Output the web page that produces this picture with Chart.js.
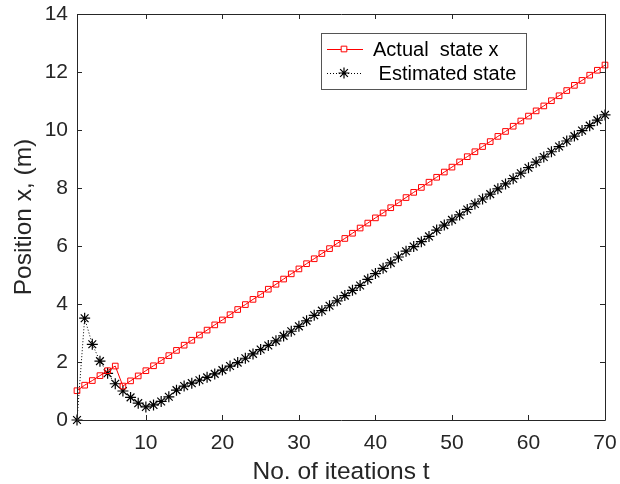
<!DOCTYPE html>
<html>
<head>
<meta charset="utf-8">
<script src="https://cdn.jsdelivr.net/npm/chart.js@4/dist/chart.umd.min.js"></script>
<style>
  html, body { margin: 0; padding: 0; background: #fff; }
  #wrap { width: 620px; height: 484px; }
</style>
</head>
<body>
<div id="wrap"><canvas id="chart" width="620" height="484"></canvas></div>
<script>
// iteration index t = 1..70
const iterations = [
  1, 2, 3, 4, 5, 6, 7, 8, 9, 10, 11, 12, 13, 14, 15, 16, 17, 18, 19, 20,
  21, 22, 23, 24, 25, 26, 27, 28, 29, 30, 31, 32, 33, 34, 35, 36, 37, 38, 39, 40,
  41, 42, 43, 44, 45, 46, 47, 48, 49, 50, 51, 52, 53, 54, 55, 56, 57, 58, 59, 60,
  61, 62, 63, 64, 65, 66, 67, 68, 69, 70
];

const actualState = [
  1.01, 1.20, 1.36, 1.53, 1.70, 1.86, 1.17, 1.35, 1.52, 1.70,
  1.87, 2.05, 2.22, 2.40, 2.58, 2.75, 2.93, 3.10, 3.28, 3.45,
  3.63, 3.81, 3.98, 4.16, 4.33, 4.51, 4.68, 4.86, 5.04, 5.21,
  5.39, 5.56, 5.74, 5.91, 6.09, 6.26, 6.44, 6.62, 6.79, 6.97,
  7.14, 7.32, 7.49, 7.67, 7.85, 8.02, 8.20, 8.37, 8.55, 8.72,
  8.90, 9.08, 9.25, 9.43, 9.60, 9.78, 9.95, 10.13, 10.31, 10.48,
  10.66, 10.83, 11.01, 11.18, 11.36, 11.54, 11.71, 11.89, 12.06, 12.24
];

const estimatedState = [
  0.00, 3.51, 2.61, 2.03, 1.61, 1.25, 1.00, 0.78, 0.58, 0.45,
  0.52, 0.64, 0.80, 1.03, 1.17, 1.27, 1.37, 1.47, 1.59, 1.72,
  1.86, 1.98, 2.13, 2.28, 2.43, 2.57, 2.73, 2.90, 3.06, 3.23,
  3.42, 3.61, 3.77, 3.94, 4.11, 4.29, 4.47, 4.64, 4.85, 5.05,
  5.23, 5.42, 5.62, 5.82, 5.98, 6.15, 6.33, 6.55, 6.72, 6.90,
  7.07, 7.26, 7.45, 7.62, 7.79, 7.97, 8.14, 8.32, 8.51, 8.70,
  8.89, 9.07, 9.25, 9.43, 9.62, 9.79, 9.98, 10.15, 10.34, 10.52
];

const xTicks = [10, 20, 30, 40, 50, 60, 70];
const yTicks = [0, 2, 4, 6, 8, 10, 12, 14];

const axisColor = '#262626';
const fontFamily = '"Liberation Sans", Arial, Helvetica, sans-serif';

// MATLAB style box with inward ticks on all four sides
const boxAxes = {
  id: 'boxAxes',
  afterDatasetsDraw(chart) {
    const { ctx, chartArea: a, scales } = chart;
    const len = 5;
    ctx.save();
    ctx.strokeStyle = axisColor;
    ctx.lineWidth = 1;
    ctx.beginPath();
    ctx.rect(Math.round(a.left) + 0.5, Math.round(a.top) + 0.5,
             Math.round(a.right - a.left), Math.round(a.bottom - a.top));
    xTicks.forEach(v => {
      const x = Math.round(scales.x.getPixelForValue(v)) + 0.5;
      ctx.moveTo(x, a.bottom); ctx.lineTo(x, a.bottom - len);
      ctx.moveTo(x, a.top); ctx.lineTo(x, a.top + len);
    });
    yTicks.forEach(v => {
      const y = Math.round(scales.y.getPixelForValue(v)) + 0.5;
      ctx.moveTo(a.left, y); ctx.lineTo(a.left + len, y);
      ctx.moveTo(a.right, y); ctx.lineTo(a.right - len, y);
    });
    ctx.stroke();
    ctx.restore();
  }
};

// legend box placed inside the axes, top right
const insideLegend = {
  id: 'insideLegend',
  afterDraw(chart) {
    const { ctx } = chart;
    const x0 = 321, y0 = 33, w = 205, h = 56;
    ctx.save();
    ctx.fillStyle = '#fff';
    ctx.fillRect(x0, y0, w, h);
    ctx.strokeStyle = '#555';
    ctx.lineWidth = 1;
    ctx.strokeRect(x0 + 0.5, y0 + 0.5, w, h);

    const ds = chart.data.datasets;
    const rows = [49, 73];
    ds.forEach((d, i) => {
      const y = rows[i];
      ctx.beginPath();
      ctx.strokeStyle = d.borderColor;
      ctx.lineWidth = 1;
      ctx.setLineDash(d.borderDash || []);
      ctx.moveTo(327, y + 0.5);
      ctx.lineTo(363, y + 0.5);
      ctx.stroke();
      ctx.setLineDash([]);
      ctx.lineWidth = d.pointBorderWidth;
      Chart.helpers.drawPoint(ctx, {
        pointStyle: d.pointStyle, radius: d.pointRadius, borderWidth: d.pointBorderWidth
      }, 344, y);
      ctx.fillStyle = '#000';
      ctx.font = '20px ' + fontFamily;
      ctx.textBaseline = 'middle';
      ctx.fillText(d.label, 373, y + 1);
    });
    ctx.restore();
  }
};

new Chart(document.getElementById('chart'), {
  type: 'line',
  data: {
    datasets: [
      {
        label: 'Actual  state x',
        data: iterations.map((t, i) => ({ x: t, y: actualState[i] })),
        borderColor: '#ff0000',
        backgroundColor: 'rgba(0,0,0,0)',
        borderWidth: 1,
        pointStyle: 'rect',
        pointRadius: 4,
        pointBorderWidth: 1,
        pointBorderColor: '#ff0000',
        pointBackgroundColor: 'rgba(0,0,0,0)',
        tension: 0,
        clip: false
      },
      {
        label: ' Estimated state',
        data: iterations.map((t, i) => ({ x: t, y: estimatedState[i] })),
        borderColor: '#000000',
        backgroundColor: 'rgba(0,0,0,0)',
        borderWidth: 1,
        borderDash: [1, 2],
        pointStyle: 'star',
        pointRadius: 5.5,
        pointBorderWidth: 1.2,
        pointBorderColor: '#000000',
        pointBackgroundColor: 'rgba(0,0,0,0)',
        tension: 0,
        clip: false
      }
    ]
  },
  options: {
    responsive: false,
    animation: false,
    devicePixelRatio: 1,
    layout: { padding: { top: 14, right: 15, bottom: 0, left: 0 } },
    plugins: {
      legend: { display: false },
      tooltip: { enabled: false }
    },
    scales: {
      x: {
        type: 'linear',
        min: 1,
        max: 70,
        grid: { display: false, drawTicks: false },
        border: { display: false },
        afterBuildTicks: s => { s.ticks = xTicks.map(v => ({ value: v })); },
        afterFit: s => { s.height = 64; s.paddingLeft = 0; s.paddingRight = 0; },
        ticks: {
          color: axisColor,
          padding: 11,
          maxRotation: 0,
          font: { family: fontFamily, size: 21 }
        },
        title: {
          display: true,
          text: 'No. of iteations t',
          color: axisColor,
          font: { family: fontFamily, size: 24.5 },
          padding: { top: 0, bottom: -3 }
        }
      },
      y: {
        min: 0,
        max: 14,
        grid: { display: false, drawTicks: false },
        border: { display: false },
        afterBuildTicks: s => { s.ticks = yTicks.map(v => ({ value: v })); },
        afterFit: s => { s.width = 77; s.paddingTop = 0; s.paddingBottom = 0; },
        ticks: {
          color: axisColor,
          padding: 9,
          font: { family: fontFamily, size: 21 }
        },
        title: {
          display: true,
          text: 'Position x, (m)',
          color: axisColor,
          font: { family: fontFamily, size: 24.5 },
          padding: { top: 10, bottom: 0 }
        }
      }
    }
  },
  plugins: [boxAxes, insideLegend]
});
</script>
</body>
</html>
